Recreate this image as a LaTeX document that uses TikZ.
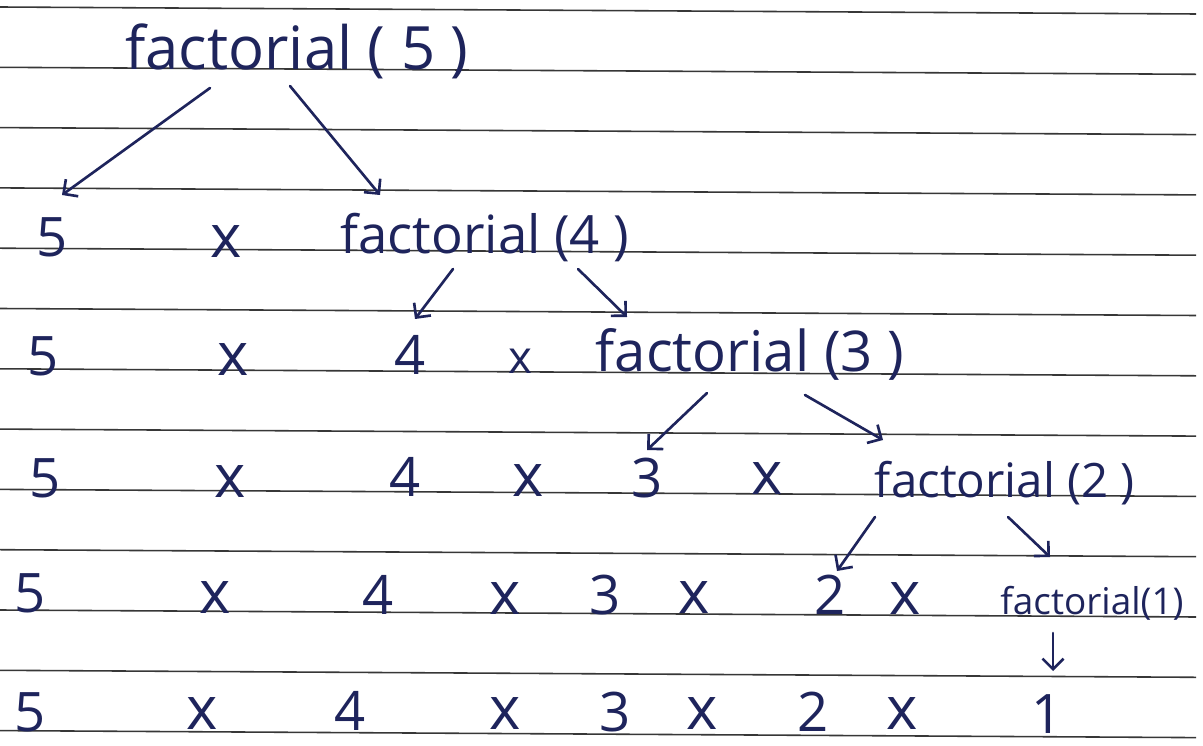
\documentclass[tikz,border=0pt]{standalone}
\usepackage{fontspec}
\setmainfont{Open Sans}
\usetikzlibrary{arrows.meta,calc}

\definecolor{ink}{RGB}{30,36,92}
\definecolor{rulegray}{RGB}{55,55,55}

\tikzset{
  num/.style={anchor=base, inner sep=0pt, text=ink, font=\fontsize{31}{31}\selectfont},
  mul/.style={anchor=base, inner sep=0pt, text=ink, font=\fontsize{34}{34}\selectfont},
  call/.style={anchor=base, inner sep=0pt, text=ink, font=\fontsize{#1}{#1}\selectfont},
  arr/.style={draw=ink, line width=1.5pt, line cap=round,
              -{Straight Barb[length=6pt,width=12pt,line width=1.5pt]}},
}

\begin{document}
\begin{tikzpicture}[x=0.02cm, y=-0.02cm]
  \useasboundingbox[fill=white] (0,0) rectangle (1203,746);

  % ruled paper
  \foreach \k in {0,...,12}
    \draw[rulegray, line width=0.9pt] (0,{7+60.3*\k}) -- (1196,{14+60.3*\k});

  % factorial(5)
  \node (f5) [call=34] at (297,70) {factorial ( 5 )};

  % row 1
  \node (r1a) [num] at (52,257) {5};
  \node (r1b) [mul] at (226,258) {x};
  \node (f4) [call=30] at (485,254) {factorial (4 )};

  % row 2
  \node (r2a) [num] at (43,376) {5};
  \node (r2b) [mul] at (233,376) {x};
  \node (r2c) [num] at (410,375) {4};
  \node (r2d) [mul, font=\fontsize{26}{26}\selectfont] at (520,374) {x};
  \node (f3) [call=32] at (750,372) {factorial (3 )};

  % row 3
  \node (r3a) [num] at (45,497) {5};
  \node (r3b) [mul] at (230,497) {x};
  \node (r3c) [num] at (405,496) {4};
  \node (r3d) [mul] at (528,496) {x};
  \node (r3e) [num] at (647,497) {3};
  \node (r3f) [mul] at (767,494) {x};
  \node (f2) [call=27] at (1005,497) {factorial (2 )};

  % row 4
  \node (r4a) [num] at (30,612) {5};
  \node (r4b) [mul] at (215,613) {x};
  \node (r4c) [num] at (378,614) {4};
  \node (r4d) [mul] at (505,614) {x};
  \node (r4e) [num] at (605,614) {3};
  \node (r4f) [mul] at (694,613) {x};
  \node (r4g) [num] at (830,614) {2};
  \node (r4h) [mul] at (905,614) {x};
  \node (f1) [call=21] at (1092,614) {factorial(1)};

  % row 5
  \node (r5a) [num] at (30,731) {5};
  \node (r5b) [mul] at (202,729) {x};
  \node (r5c) [num] at (350,730) {4};
  \node (r5d) [mul] at (505,729) {x};
  \node (r5e) [num] at (615,731) {3};
  \node (r5f) [mul] at (702,729) {x};
  \node (r5g) [num] at (813,731) {2};
  \node (r5h) [mul] at (902,729) {x};
  \node (r5i) [num] at (1047,733) {1};

  % calls
  \draw[arr] ($(f5.base)+(-87,18)$) -- ($(r1a.base)+(10,-62)$);
  \draw[arr] ($(f5.base)+(-7,16)$) -- ($(f4.base)+(-105,-59)$);
  \draw[arr] ($(f4.base)+(-32,15)$) -- ($(r2c.base)+(5,-56)$);
  \draw[arr] ($(f4.base)+(93,15)$) -- ($(f3.base)+(-123,-55)$);
  \draw[arr] ($(f3.base)+(-43,21)$) -- ($(r3e.base)+(0,-47)$);
  \draw[arr] ($(f3.base)+(55,23)$) -- ($(f2.base)+(-122,-57)$);
  \draw[arr] ($(f2.base)+(-130,20)$) -- ($(r4g.base)+(7,-43)$);
  \draw[arr] ($(f2.base)+(3,20)$) -- ($(f1.base)+(-42,-57)$);
  \draw[arr] ($(f1.base)+(-39,19)$) -- ($(r5i.base)+(6,-62)$);
\end{tikzpicture}
\end{document}
